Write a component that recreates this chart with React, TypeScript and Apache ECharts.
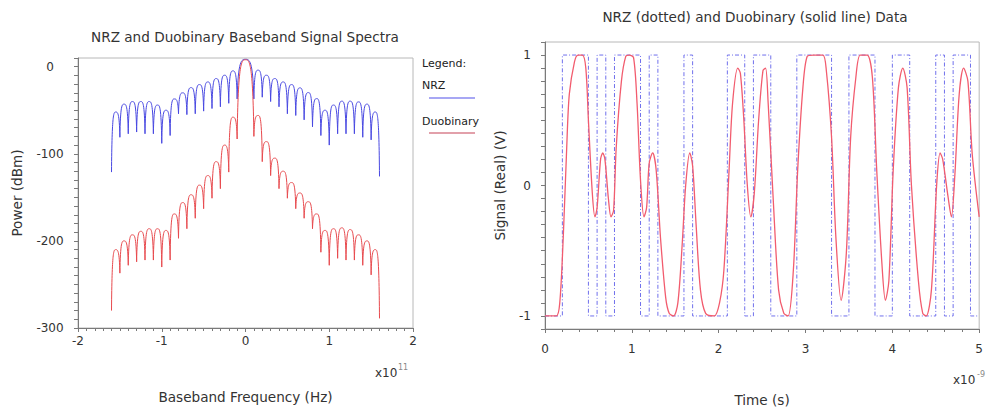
import React, { useEffect, useRef } from 'react';
import * as echarts from 'echarts';

// ---- Left chart: baseband spectra (frequency in units of 1e11 Hz, power in dBm)
// Null (lobe-edge) frequencies and lobe-centre frequencies
const specNullFreq = [
  -1.6, -1.5, -1.4, -1.3, -1.2, -1.1, -1.0, -0.9, -0.8, -0.7, -0.6, -0.5, -0.4, -0.3, -0.2,
  -0.1, 0.1, 0.2, 0.3, 0.4, 0.5, 0.6, 0.7, 0.8, 0.9, 1.0, 1.1, 1.2, 1.3, 1.4, 1.5, 1.6,
];
const specPeakFreq = [
  -1.55, -1.45, -1.35, -1.25, -1.15, -1.05, -0.95, -0.85, -0.75, -0.65, -0.55, -0.45, -0.35,
  -0.25, -0.15, 0, 0.15, 0.25, 0.35, 0.45, 0.55, 0.65, 0.75, 0.85, 0.95, 1.05, 1.15, 1.25,
  1.35, 1.45, 1.55,
];
const nrzNullPower = [
  -121, -81, -77, -75, -77, -77, -88, -79, -54, -55, -54, -51, -48, -46, -42, -37, -37, -35,
  -40, -46, -54, -56, -61, -69, -79, -90, -77, -77, -77, -81, -84, -126,
];
const nrzPeakPower = [
  -52, -43, -40, -40, -40, -44, -50, -37, -30, -24, -20.5, -17.5, -13.6, -9.8, -4.8, 8.5, -4,
  -9.8, -13.6, -17.5, -20.5, -24.3, -29.7, -36.6, -50, -44, -39.6, -39.6, -40.4, -43, -52,
];
const duoNullPower = [
  -280, -237, -228, -224, -222, -222, -230, -222, -197, -186, -174, -163, -151, -140, -121,
  -83, -80, -109, -125, -140, -151, -163, -174, -186, -213, -228, -220, -222, -222, -228,
  -239, -289,
];
const duoPeakPower = [
  -210, -200, -193, -189, -186, -186, -188, -169, -156, -147, -136, -125, -109, -90, -58, 8,
  -56, -86, -105, -120, -133, -145, -155, -169, -188, -186, -185, -187, -193, -200, -210,
];

// ---- Right chart: time-domain data (time in ns)
const bitPeriod = 0.1;
const nrzBits = [
  0, 0, 1, 1, 1, 0, 1, 0, 1, 1, 1, 0, 1, 0, 0, 0, 1, 0, 0, 0, 0, 1, 1, 0, 1, 1, 0, 0, 0,
  1, 1, 1, 1, 0, 0, 1, 1, 1, 0, 0, 1, 1, 0, 0, 0, 1, 0, 1, 1, 0,
];
const duoTime = [
  0, 0.13, 0.17, 0.21, 0.25, 0.28, 0.34, 0.38, 0.43, 0.47, 0.5, 0.545, 0.575, 0.6, 0.64,
  0.665, 0.69, 0.73, 0.76, 0.79, 0.82, 0.88, 0.93, 0.97, 1.02, 1.06, 1.1, 1.14, 1.17, 1.2,
  1.24, 1.28, 1.33, 1.39, 1.43, 1.48, 1.53, 1.58, 1.62, 1.667, 1.7, 1.74, 1.79, 1.85,
  1.95, 2.01, 2.06, 2.12, 2.16, 2.22, 2.25, 2.29, 2.33, 2.37, 2.41, 2.46, 2.51, 2.54,
  2.57, 2.63, 2.69, 2.75, 2.8, 2.86, 2.91, 2.97, 3.02, 3.09, 3.2, 3.24, 3.3, 3.35, 3.41,
  3.47, 3.52, 3.58, 3.63, 3.71, 3.77, 3.82, 3.88, 3.92, 3.96, 4.01, 4.07, 4.12, 4.17,
  4.22, 4.3, 4.35, 4.39, 4.45, 4.51, 4.55, 4.58, 4.64, 4.68, 4.72, 4.77, 4.82, 4.87,
  4.92, 5.0,
];
const duoLevel = [
  -1, -1, -0.9, -0.4, 0.29, 0.7, 0.95, 1.0, 1.0, 0.9, 0.5, -0.06, -0.24, -0.17, 0.2,
  0.25, 0.2, -0.1, -0.24, -0.19, 0.29, 0.8, 0.99, 1.0, 0.98, 0.63, 0.04, -0.24, -0.17,
  0.17, 0.25, 0.12, -0.4, -0.86, -0.98, -1.0, -0.9, -0.45, 0.0, 0.25, 0.15, -0.3, -0.8,
  -0.98, -1.0, -0.9, -0.65, 0.12, 0.63, 0.9, 0.86, 0.5, 0.0, -0.24, -0.06, 0.5, 0.88,
  0.9, 0.63, -0.13, -0.8, -0.98, -1.0, -0.65, 0.12, 0.75, 0.99, 1.0, 1.0, 0.88, 0.37,
  -0.4, -0.88, -0.52, 0.37, 0.83, 1.0, 1.0, 0.83, 0.12, -0.6, -0.88, -0.73, 0.12, 0.75,
  0.9, 0.75, 0.0, -0.73, -0.98, -1.0, -0.8, 0.0, 0.25, 0.2, -0.08, -0.24, 0.08, 0.7,
  0.9, 0.8, 0.24, -0.24,
];

const FONT = 'DejaVu Sans';
const TXT = '#333';
const AXIS = '#7a7a7a';

function lobeData(nulls: number[], peaks: number[]) {
  return specPeakFreq.map((fc, i) => [
    specNullFreq[i],
    fc,
    specNullFreq[i + 1],
    nulls[i],
    peaks[i],
    nulls[i + 1],
  ]);
}

function lobeRenderer(color: string) {
  return (_params: any, api: any) => {
    const p0 = api.coord([api.value(0), api.value(3)]);
    const pc = api.coord([api.value(1), api.value(4)]);
    const p1 = api.coord([api.value(2), api.value(5)]);
    const wl = pc[0] - p0[0];
    const wr = p1[0] - pc[0];
    const d =
      `M${p0[0]},${p0[1]} ` +
      `C${p0[0] + 0.12 * wl},${pc[1]} ${pc[0] - 0.45 * wl},${pc[1]} ${pc[0]},${pc[1]} ` +
      `C${pc[0] + 0.45 * wr},${pc[1]} ${p1[0] - 0.12 * wr},${pc[1]} ${p1[0]},${p1[1]}`;
    return {
      type: 'path',
      shape: { pathData: d },
      style: { fill: 'none', stroke: color, lineWidth: 1 },
    };
  };
}

export default function App() {
  const ref = useRef<HTMLDivElement>(null);

  useEffect(() => {
    if (!ref.current) return;
    const chart = echarts.init(ref.current, null, { renderer: 'svg' });

    const nrzWave: number[][] = nrzBits.map((b, i) => [i * bitPeriod, b ? 1 : -1]);
    nrzWave.push([nrzBits.length * bitPeriod, nrzBits[nrzBits.length - 1] ? 1 : -1]);
    const duoWave = duoTime.map((t, i) => [t, duoLevel[i]]);

    const labelStyle = { fontFamily: FONT, fontSize: 12, color: TXT };
    const nameStyle = { fontFamily: FONT, fontSize: 13.6, color: TXT };
    const txt = (x: number, y: number, text: string, size: number, align = 'left', fill = '#222') => ({
      type: 'text',
      x,
      y,
      silent: true,
      style: { text, fontFamily: FONT, fontSize: size, fill, align, verticalAlign: 'middle' },
    });

    const option: any = {
      animation: false,
      backgroundColor: '#ffffff',
      grid: [
        { left: 78, top: 58, width: 335, height: 270, show: true, borderColor: '#b8b8b8', borderWidth: 1 },
        { left: 545, top: 42, width: 440, height: 289, show: true, borderColor: '#b8b8b8', borderWidth: 1 },
      ],
      xAxis: [
        {
          type: 'value',
          gridIndex: 0,
          min: -2,
          max: 2,
          interval: 1,
          name: 'Baseband Frequency (Hz)',
          nameLocation: 'middle',
          nameGap: 62,
          nameTextStyle: nameStyle,
          axisLine: { show: true, onZero: false, lineStyle: { color: AXIS } },
          axisTick: { show: true, length: 4, lineStyle: { color: AXIS } },
          minorTick: { show: true, splitNumber: 10, length: 3, lineStyle: { color: AXIS } },
          axisLabel: { ...labelStyle, margin: 7 },
          splitLine: { show: false },
        },
        {
          type: 'value',
          gridIndex: 1,
          min: 0,
          max: 5,
          interval: 1,
          name: 'Time (s)',
          nameLocation: 'middle',
          nameGap: 64,
          nameTextStyle: nameStyle,
          axisLine: { show: true, onZero: false, lineStyle: { color: AXIS } },
          axisTick: { show: true, length: 4, lineStyle: { color: AXIS } },
          minorTick: { show: true, splitNumber: 5, length: 3, lineStyle: { color: AXIS } },
          axisLabel: { ...labelStyle, margin: 14 },
          splitLine: { show: false },
        },
      ],
      yAxis: [
        {
          type: 'value',
          gridIndex: 0,
          min: -300,
          max: 10,
          interval: 10,
          name: 'Power (dBm)',
          nameLocation: 'middle',
          nameGap: 54,
          nameTextStyle: nameStyle,
          axisLine: { show: true, onZero: false, lineStyle: { color: AXIS } },
          axisTick: { show: true, length: 4, lineStyle: { color: AXIS } },
          axisLabel: {
            ...labelStyle,
            align: 'center',
            margin: 28,
            formatter: (v: number) => (Math.abs(v % 100) < 1e-6 ? String(Math.round(v)) : ''),
          },
          splitLine: { show: false },
        },
        {
          type: 'value',
          gridIndex: 1,
          min: -1.1,
          max: 1.1,
          interval: 0.1,
          name: 'Signal (Real) (V)',
          nameLocation: 'middle',
          nameGap: 38,
          nameTextStyle: nameStyle,
          axisLine: { show: true, onZero: false, lineStyle: { color: AXIS } },
          axisTick: { show: true, length: 4, lineStyle: { color: AXIS } },
          axisLabel: {
            ...labelStyle,
            margin: 14,
            formatter: (v: number) => (Math.abs(v - Math.round(v)) < 1e-6 ? String(Math.round(v)) : ''),
          },
          splitLine: { show: false },
        },
      ],
      series: [
        {
          name: 'NRZ',
          type: 'custom',
          xAxisIndex: 0,
          yAxisIndex: 0,
          data: lobeData(nrzNullPower, nrzPeakPower),
          encode: { x: [0, 1, 2], y: [3, 4, 5] },
          renderItem: lobeRenderer('#4848e2'),
          silent: true,
        },
        {
          name: 'Duobinary',
          type: 'custom',
          xAxisIndex: 0,
          yAxisIndex: 0,
          data: lobeData(duoNullPower, duoPeakPower),
          encode: { x: [0, 1, 2], y: [3, 4, 5] },
          renderItem: lobeRenderer('#e84a4e'),
          silent: true,
        },
        {
          name: 'NRZ data',
          type: 'line',
          xAxisIndex: 1,
          yAxisIndex: 1,
          data: nrzWave,
          step: 'end',
          showSymbol: false,
          lineStyle: { color: '#7070ec', width: 1, type: [4, 2, 1, 2] },
        },
        {
          name: 'Duobinary data',
          type: 'line',
          xAxisIndex: 1,
          yAxisIndex: 1,
          data: duoWave,
          smooth: 0.3,
          showSymbol: false,
          lineStyle: { color: '#f25c6e', width: 1.3 },
        },
      ],
      graphic: [
        txt(245, 37, 'NRZ and Duobinary Baseband Signal Spectra', 13.6, 'center', TXT),
        txt(755, 17, 'NRZ (dotted) and Duobinary (solid line) Data', 13.6, 'center', TXT),
        txt(375, 373, 'x10', 12, 'left', TXT),
        txt(398, 367, '11', 8, 'left', '#888'),
        txt(953, 380, 'x10', 12, 'left', TXT),
        txt(977, 374, '-9', 8, 'left', '#888'),
        txt(422, 63, 'Legend:', 11),
        txt(422, 85, 'NRZ', 11),
        {
          type: 'line',
          silent: true,
          shape: { x1: 429, y1: 98, x2: 475, y2: 98 },
          style: { stroke: '#8a8af0', lineWidth: 1.5 },
        },
        txt(422, 121, 'Duobinary', 11),
        {
          type: 'line',
          silent: true,
          shape: { x1: 429, y1: 133, x2: 475, y2: 133 },
          style: { stroke: '#d8808e', lineWidth: 1.5 },
        },
      ],
    };

    chart.setOption(option);
    return () => chart.dispose();
  }, []);

  return (
    <div
      ref={ref}
      style={{ position: 'absolute', left: 0, top: 0, width: 986, height: 412, background: '#fff' }}
    />
  );
}
